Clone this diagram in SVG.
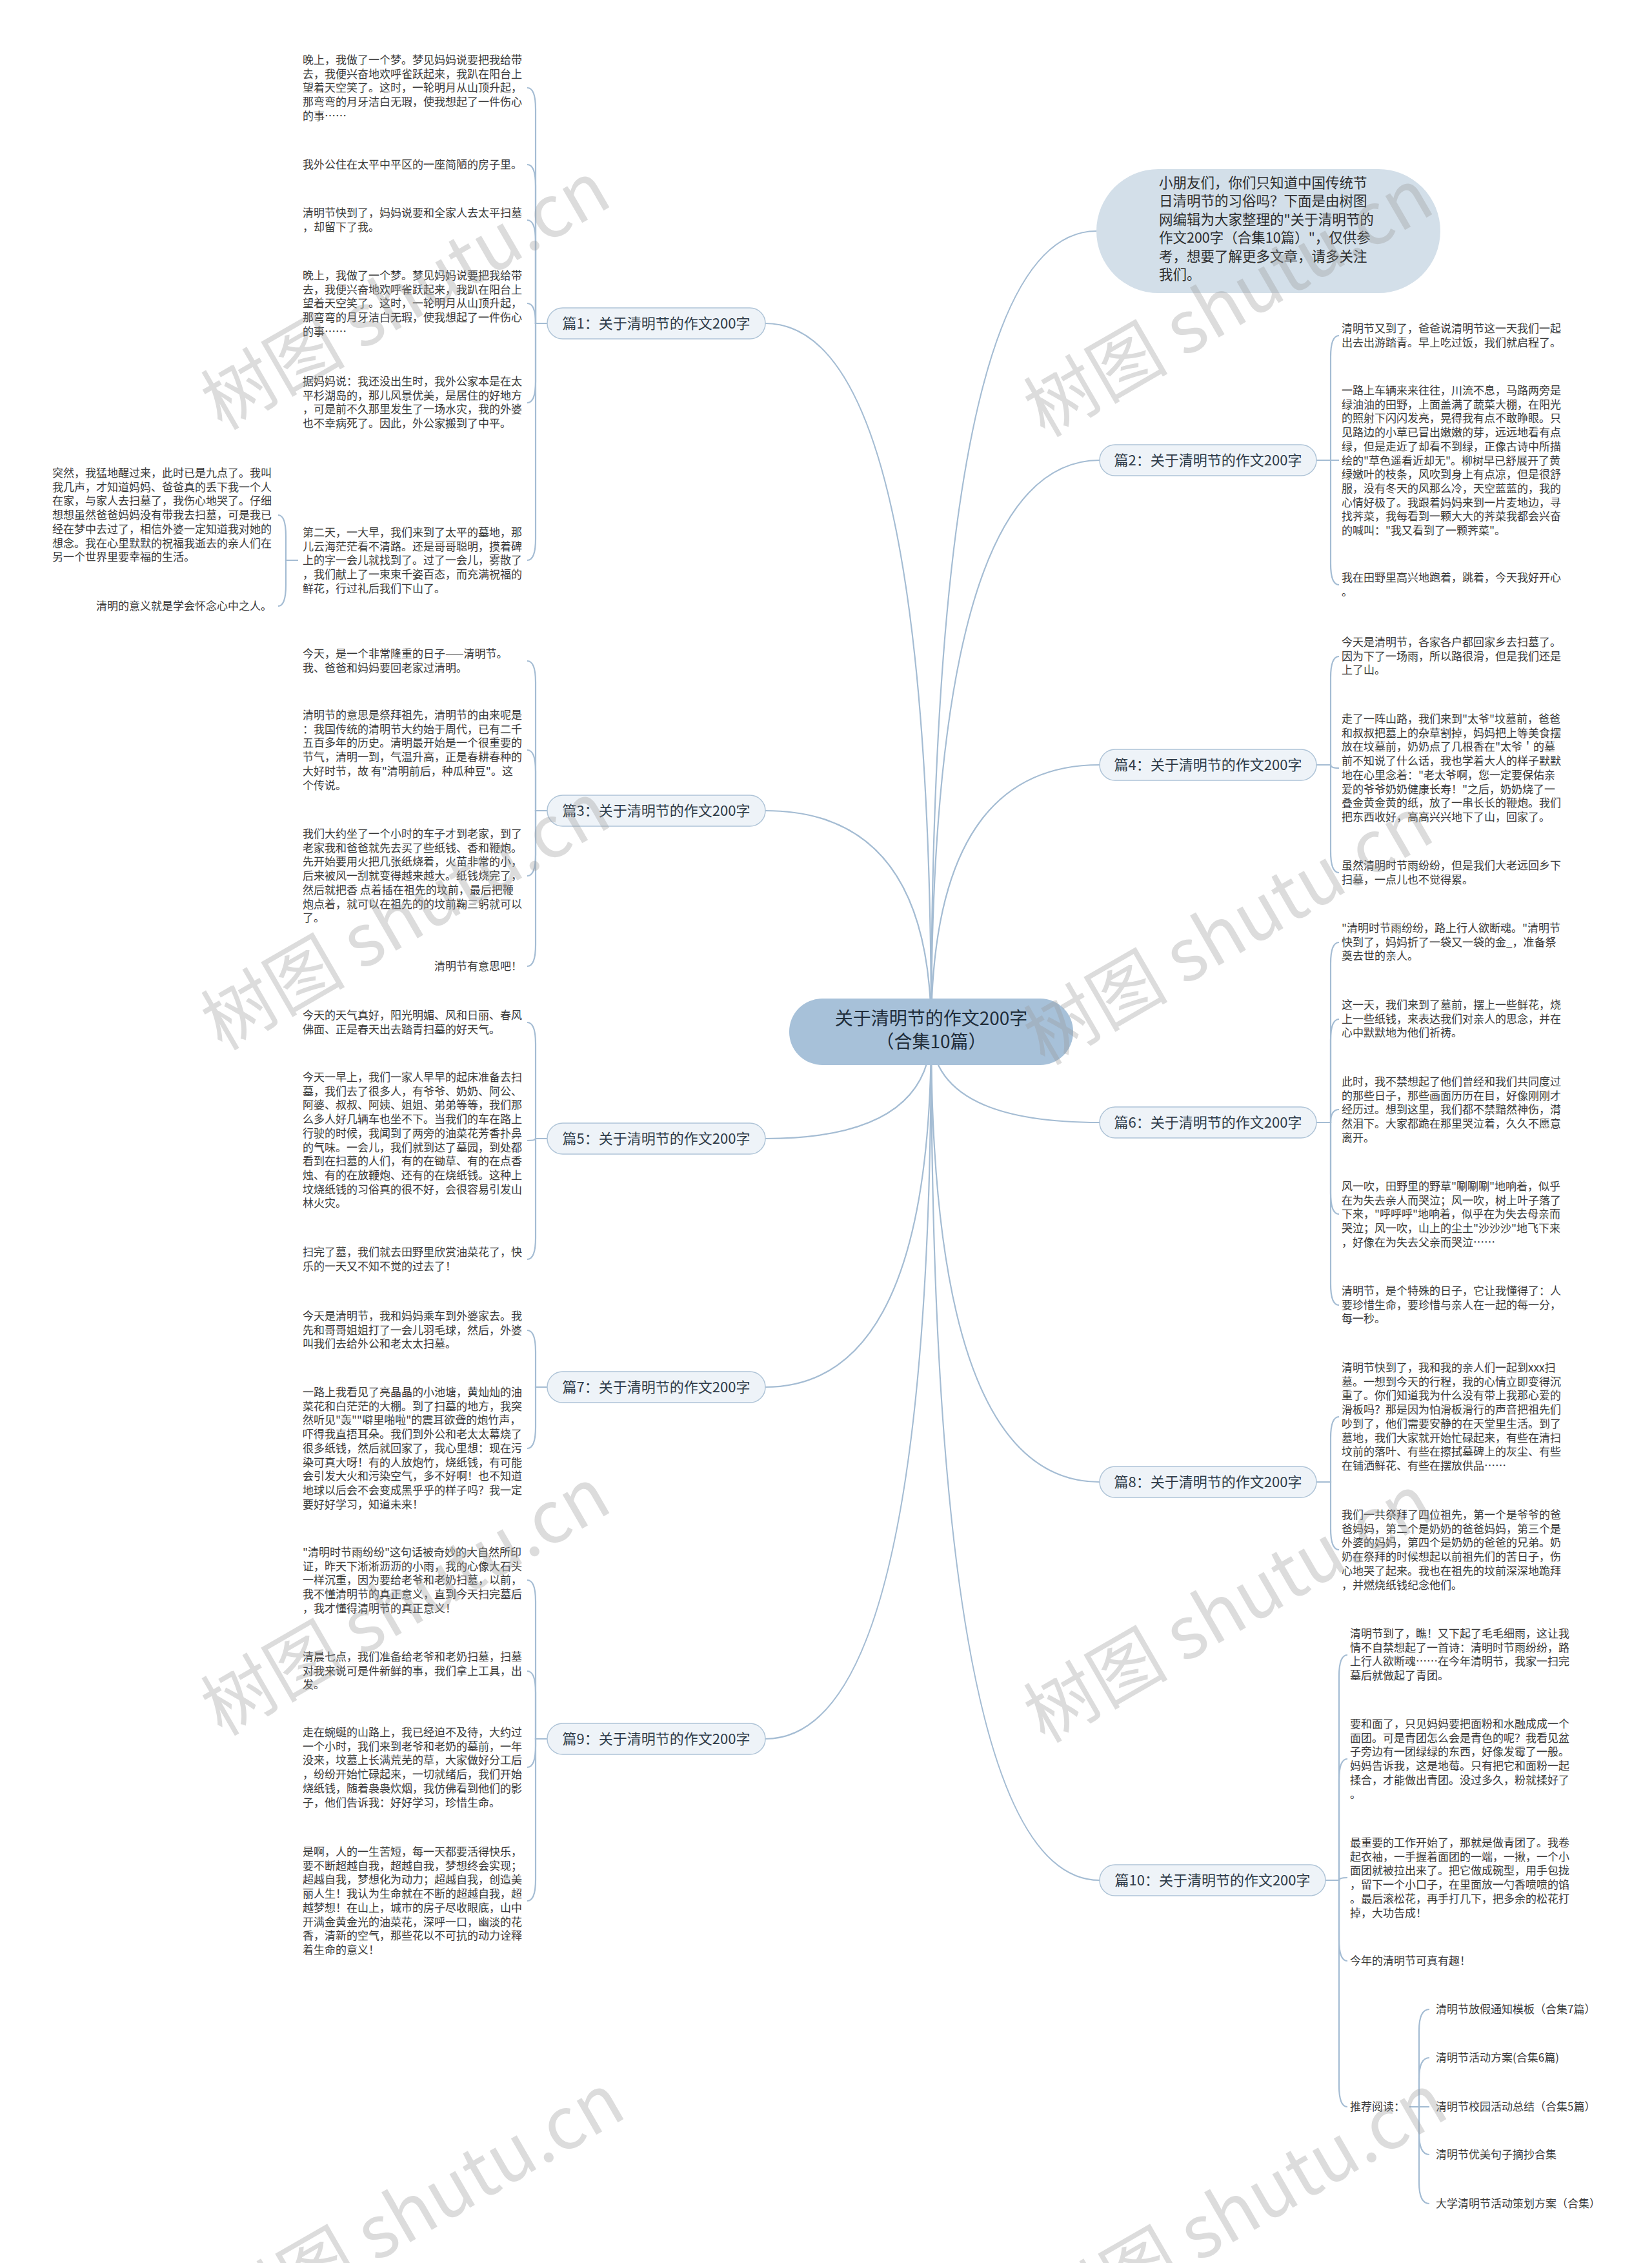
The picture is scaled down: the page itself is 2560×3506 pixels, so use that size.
<svg xmlns="http://www.w3.org/2000/svg" width="2560" height="3506" viewBox="0 0 2560 3506">
<style>
.t{font-family:"Noto Sans CJK SC","Liberation Sans",sans-serif;font-size:17px;fill:#3a3a3a}
.te{font-family:"Noto Sans CJK SC","Liberation Sans",sans-serif;font-size:17px;fill:#3a3a3a;text-anchor:end}
.bn{fill:#eef3f8;stroke:#afc4d7;stroke-width:1.5}
.bt{font-family:"Noto Sans CJK SC","Liberation Sans",sans-serif;font-size:22px;fill:#2e3b48;text-anchor:middle}
.c{fill:none;stroke:#a4bcd3;stroke-width:2.2}
.wm{font-family:"Noto Sans CJK SC","Liberation Serif",serif;font-size:112px;fill:#9a9a9a;fill-opacity:0.35}
</style>
<rect width="2560" height="3506" fill="#ffffff"/>
<g id="connectors">
<path class="c" d="M1443 1598 Q1443 501 1186 501"/>
<path class="c" d="M1443 1598 Q1443 1256 1186 1256"/>
<path class="c" d="M1443 1598 Q1443 1764 1186 1764"/>
<path class="c" d="M1443 1598 Q1443 2149 1186 2149"/>
<path class="c" d="M1443 1598 Q1443 2694 1186 2694"/>
<path class="c" d="M1443 1598 Q1443 358 1699 358"/>
<path class="c" d="M1443 1598 Q1443 713 1704 713"/>
<path class="c" d="M1443 1598 Q1443 1185 1704 1185"/>
<path class="c" d="M1443 1598 Q1443 1739 1704 1739"/>
<path class="c" d="M1443 1598 Q1443 2296 1704 2296"/>
<path class="c" d="M1443 1598 Q1443 2913 1704 2913"/>
<path class="c" d="M848 501 H830 V169 Q830 136 817 136"/>
<path class="c" d="M848 501 H830 V288 Q830 255 817 255"/>
<path class="c" d="M848 501 H830 V374 Q830 341 817 341"/>
<path class="c" d="M848 501 H830 V501 Q830 470 817 470"/>
<path class="c" d="M848 501 H830 V591 Q830 624 817 624"/>
<path class="c" d="M848 501 H830 V835 Q830 868 817 868"/>
<path class="c" d="M462 868 H443 V831 Q443 798 431 798"/>
<path class="c" d="M462 868 H443 V906 Q443 939 431 939"/>
<path class="c" d="M848 1256 H830 V1057 Q830 1024 817 1024"/>
<path class="c" d="M848 1256 H830 V1195 Q830 1162 817 1162"/>
<path class="c" d="M848 1256 H830 V1324 Q830 1357 817 1357"/>
<path class="c" d="M848 1256 H830 V1464 Q830 1497 817 1497"/>
<path class="c" d="M848 1764 H830 V1617 Q830 1584 817 1584"/>
<path class="c" d="M848 1764 H830 V1764 Q830 1767 817 1767"/>
<path class="c" d="M848 1764 H830 V1918 Q830 1951 817 1951"/>
<path class="c" d="M848 2149 H830 V2094 Q830 2061 817 2061"/>
<path class="c" d="M848 2149 H830 V2211 Q830 2244 817 2244"/>
<path class="c" d="M848 2694 H830 V2481 Q830 2448 817 2448"/>
<path class="c" d="M848 2694 H830 V2622 Q830 2589 817 2589"/>
<path class="c" d="M848 2694 H830 V2705 Q830 2738 817 2738"/>
<path class="c" d="M848 2694 H830 V2912 Q830 2945 817 2945"/>
<path class="c" d="M2040 713 H2062 V553 Q2062 520 2075 520"/>
<path class="c" d="M2040 713 H2075"/>
<path class="c" d="M2040 713 H2062 V873 Q2062 906 2075 906"/>
<path class="c" d="M2040 1185 H2062 V1050 Q2062 1017 2075 1017"/>
<path class="c" d="M2040 1185 H2062 V1185 Q2062 1190 2075 1190"/>
<path class="c" d="M2040 1185 H2062 V1319 Q2062 1352 2075 1352"/>
<path class="c" d="M2040 1739 H2062 V1493 Q2062 1460 2075 1460"/>
<path class="c" d="M2040 1739 H2062 V1612 Q2062 1579 2075 1579"/>
<path class="c" d="M2040 1739 H2062 V1739 Q2062 1719 2075 1719"/>
<path class="c" d="M2040 1739 H2062 V1848 Q2062 1881 2075 1881"/>
<path class="c" d="M2040 1739 H2062 V1989 Q2062 2022 2075 2022"/>
<path class="c" d="M2040 2296 H2062 V2228 Q2062 2195 2075 2195"/>
<path class="c" d="M2040 2296 H2062 V2368 Q2062 2401 2075 2401"/>
<path class="c" d="M2054 2913 H2075 V2597 Q2075 2564 2088 2564"/>
<path class="c" d="M2054 2913 H2075 V2758 Q2075 2725 2088 2725"/>
<path class="c" d="M2054 2913 H2075 V2913 Q2075 2909 2088 2909"/>
<path class="c" d="M2054 2913 H2075 V3005 Q2075 3038 2088 3038"/>
<path class="c" d="M2054 2913 H2075 V3231 Q2075 3264 2088 3264"/>
<path class="c" d="M2184 3264 H2199 V3146 Q2199 3113 2215 3113"/>
<path class="c" d="M2184 3264 H2199 V3221 Q2199 3188 2215 3188"/>
<path class="c" d="M2184 3264 H2215"/>
<path class="c" d="M2184 3264 H2199 V3305 Q2199 3338 2215 3338"/>
<path class="c" d="M2184 3264 H2199 V3381 Q2199 3414 2215 3414"/>
</g>
<g id="center">
<rect x="1223" y="1547" width="440" height="103" rx="51" fill="#a7c1d9"/>
<text x="1443" y="1588" font-family="Noto Sans CJK SC, Liberation Sans, sans-serif" font-size="28" fill="#1f2d3a" text-anchor="middle">关于清明节的作文200字</text>
<text x="1443" y="1624" font-family="Noto Sans CJK SC, Liberation Sans, sans-serif" font-size="28" fill="#1f2d3a" text-anchor="middle">（合集10篇）</text>
</g>
<g id="intro">
<rect x="1699" y="262" width="533" height="192" rx="96" fill="#d3dfe9"/>
<text font-family="Noto Sans CJK SC, Liberation Sans, sans-serif" font-size="21.5" fill="#2e2e2e" x="1796" y="291"><tspan x="1796">小朋友们，你们只知道中国传统节</tspan><tspan x="1796" dy="28.4">日清明节的习俗吗？下面是由树图</tspan><tspan x="1796" dy="28.4">网编辑为大家整理的"关于清明节的</tspan><tspan x="1796" dy="28.4">作文200字（合集10篇）"，仅供参</tspan><tspan x="1796" dy="28.4">考，想要了解更多文章，请多关注</tspan><tspan x="1796" dy="28.4">我们。</tspan></text>
</g>
<g id="b1"><rect class="bn" x="848" y="477" width="338" height="48" rx="24"/><text class="bt" x="1017" y="509">篇1：关于清明节的作文200字</text></g>
<g id="b3"><rect class="bn" x="848" y="1232" width="338" height="48" rx="24"/><text class="bt" x="1017" y="1264">篇3：关于清明节的作文200字</text></g>
<g id="b5"><rect class="bn" x="848" y="1740" width="338" height="48" rx="24"/><text class="bt" x="1017" y="1772">篇5：关于清明节的作文200字</text></g>
<g id="b7"><rect class="bn" x="848" y="2125" width="338" height="48" rx="24"/><text class="bt" x="1017" y="2157">篇7：关于清明节的作文200字</text></g>
<g id="b9"><rect class="bn" x="848" y="2670" width="338" height="48" rx="24"/><text class="bt" x="1017" y="2702">篇9：关于清明节的作文200字</text></g>
<g id="b2"><rect class="bn" x="1704" y="689" width="336" height="48" rx="24"/><text class="bt" x="1872" y="721">篇2：关于清明节的作文200字</text></g>
<g id="b4"><rect class="bn" x="1704" y="1161" width="336" height="48" rx="24"/><text class="bt" x="1872" y="1193">篇4：关于清明节的作文200字</text></g>
<g id="b6"><rect class="bn" x="1704" y="1715" width="336" height="48" rx="24"/><text class="bt" x="1872" y="1747">篇6：关于清明节的作文200字</text></g>
<g id="b8"><rect class="bn" x="1704" y="2272" width="336" height="48" rx="24"/><text class="bt" x="1872" y="2304">篇8：关于清明节的作文200字</text></g>
<g id="b10"><rect class="bn" x="1704" y="2889" width="350" height="48" rx="24"/><text class="bt" x="1879" y="2921">篇10：关于清明节的作文200字</text></g>
<g id="n1a"><text class="t" x="469" y="99"><tspan x="469">晚上，我做了一个梦。梦见妈妈说要把我给带</tspan><tspan x="469" dy="21.7">去，我便兴奋地欢呼雀跃起来，我趴在阳台上</tspan><tspan x="469" dy="21.7">望着天空笑了。这时，一轮明月从山顶升起，</tspan><tspan x="469" dy="21.7">那弯弯的月牙洁白无瑕，使我想起了一件伤心</tspan><tspan x="469" dy="21.7">的事……</tspan></text></g>
<g id="n1b"><text class="t" x="469" y="261">我外公住在太平中平区的一座简陋的房子里。</text></g>
<g id="n1c"><text class="t" x="469" y="336"><tspan x="469">清明节快到了，妈妈说要和全家人去太平扫墓</tspan><tspan x="469" dy="21.7">，却留下了我。</tspan></text></g>
<g id="n1d"><text class="t" x="469" y="433"><tspan x="469">晚上，我做了一个梦。梦见妈妈说要把我给带</tspan><tspan x="469" dy="21.7">去，我便兴奋地欢呼雀跃起来，我趴在阳台上</tspan><tspan x="469" dy="21.7">望着天空笑了。这时，一轮明月从山顶升起，</tspan><tspan x="469" dy="21.7">那弯弯的月牙洁白无瑕，使我想起了一件伤心</tspan><tspan x="469" dy="21.7">的事……</tspan></text></g>
<g id="n1e"><text class="t" x="469" y="597"><tspan x="469">据妈妈说：我还没出生时，我外公家本是在太</tspan><tspan x="469" dy="21.7">平杉湖岛的，那儿风景优美，是居住的好地方</tspan><tspan x="469" dy="21.7">，可是前不久那里发生了一场水灾，我的外婆</tspan><tspan x="469" dy="21.7">也不幸病死了。因此，外公家搬到了中平。</tspan></text></g>
<g id="n1f"><text class="t" x="469" y="831"><tspan x="469">第二天，一大早，我们来到了太平的墓地，那</tspan><tspan x="469" dy="21.7">儿云海茫茫看不清路。还是哥哥聪明，摸着碑</tspan><tspan x="469" dy="21.7">上的字一会儿就找到了。过了一会儿，雾散了</tspan><tspan x="469" dy="21.7">，我们献上了一束束千姿百态，而充满祝福的</tspan><tspan x="469" dy="21.7">鲜花，行过礼后我们下山了。</tspan></text></g>
<g id="n1f1"><text class="t" x="81" y="739"><tspan x="81">突然，我猛地醒过来，此时已是九点了。我叫</tspan><tspan x="81" dy="21.7">我几声，才知道妈妈、爸爸真的丢下我一个人</tspan><tspan x="81" dy="21.7">在家，与家人去扫墓了，我伤心地哭了。仔细</tspan><tspan x="81" dy="21.7">想想虽然爸爸妈妈没有带我去扫墓，可是我已</tspan><tspan x="81" dy="21.7">经在梦中去过了，相信外婆一定知道我对她的</tspan><tspan x="81" dy="21.7">想念。我在心里默默的祝福我逝去的亲人们在</tspan><tspan x="81" dy="21.7">另一个世界里要幸福的生活。</tspan></text></g>
<g id="n1f2"><text class="te" x="421" y="945">清明的意义就是学会怀念心中之人。</text></g>
<g id="n3a"><text class="t" x="469" y="1019"><tspan x="469">今天，是一个非常隆重的日子——清明节。</tspan><tspan x="469" dy="21.7">我、爸爸和妈妈要回老家过清明。</tspan></text></g>
<g id="n3b"><text class="t" x="469" y="1114"><tspan x="469">清明节的意思是祭拜祖先，清明节的由来呢是</tspan><tspan x="469" dy="21.7">：我国传统的清明节大约始于周代，已有二千</tspan><tspan x="469" dy="21.7">五百多年的历史。清明最开始是一个很重要的</tspan><tspan x="469" dy="21.7">节气，清明一到，气温升高，正是春耕春种的</tspan><tspan x="469" dy="21.7">大好时节，故 有"清明前后，种瓜种豆"。这</tspan><tspan x="469" dy="21.7">个传说。</tspan></text></g>
<g id="n3c"><text class="t" x="469" y="1298"><tspan x="469">我们大约坐了一个小时的车子才到老家，到了</tspan><tspan x="469" dy="21.7">老家我和爸爸就先去买了些纸钱、香和鞭炮。</tspan><tspan x="469" dy="21.7">先开始要用火把几张纸烧着，火苗非常的小，</tspan><tspan x="469" dy="21.7">后来被风一刮就变得越来越大。纸钱烧完了，</tspan><tspan x="469" dy="21.7">然后就把香 点着插在祖先的坟前，最后把鞭</tspan><tspan x="469" dy="21.7">炮点着，就可以在祖先的的坟前鞠三躬就可以</tspan><tspan x="469" dy="21.7">了。</tspan></text></g>
<g id="n3d"><text class="te" x="809" y="1503">清明节有意思吧！</text></g>
<g id="n5a"><text class="t" x="469" y="1579"><tspan x="469">今天的天气真好，阳光明媚、风和日丽、春风</tspan><tspan x="469" dy="21.7">佛面、正是春天出去踏青扫墓的好天气。</tspan></text></g>
<g id="n5b"><text class="t" x="469" y="1675"><tspan x="469">今天一早上，我们一家人早早的起床准备去扫</tspan><tspan x="469" dy="21.7">墓，我们去了很多人，有爷爷、奶奶、阿公、</tspan><tspan x="469" dy="21.7">阿婆、叔叔、阿姨、姐姐、弟弟等等，我们那</tspan><tspan x="469" dy="21.7">么多人好几辆车也坐不下。当我们的车在路上</tspan><tspan x="469" dy="21.7">行驶的时候，我闻到了两旁的油菜花芳香扑鼻</tspan><tspan x="469" dy="21.7">的气味。一会儿，我们就到达了墓园，到处都</tspan><tspan x="469" dy="21.7">看到在扫墓的人们，有的在锄草、有的在点香</tspan><tspan x="469" dy="21.7">烛、有的在放鞭炮、还有的在烧纸钱。这种上</tspan><tspan x="469" dy="21.7">坟烧纸钱的习俗真的很不好，会很容易引发山</tspan><tspan x="469" dy="21.7">林火灾。</tspan></text></g>
<g id="n5c"><text class="t" x="469" y="1946"><tspan x="469">扫完了墓，我们就去田野里欣赏油菜花了，快</tspan><tspan x="469" dy="21.7">乐的一天又不知不觉的过去了！</tspan></text></g>
<g id="n7a"><text class="t" x="469" y="2045"><tspan x="469">今天是清明节，我和妈妈乘车到外婆家去。我</tspan><tspan x="469" dy="21.7">先和哥哥姐姐打了一会儿羽毛球，然后，外婆</tspan><tspan x="469" dy="21.7">叫我们去给外公和老太太扫墓。</tspan></text></g>
<g id="n7b"><text class="t" x="469" y="2163"><tspan x="469">一路上我看见了亮晶晶的小池塘，黄灿灿的油</tspan><tspan x="469" dy="21.7">菜花和白茫茫的大棚。到了扫墓的地方，我突</tspan><tspan x="469" dy="21.7">然听见"轰""噼里啪啦"的震耳欲聋的炮竹声，</tspan><tspan x="469" dy="21.7">吓得我直捂耳朵。我们到外公和老太太幕烧了</tspan><tspan x="469" dy="21.7">很多纸钱，然后就回家了，我心里想：现在污</tspan><tspan x="469" dy="21.7">染可真大呀！有的人放炮竹，烧纸钱，有可能</tspan><tspan x="469" dy="21.7">会引发大火和污染空气，多不好啊！也不知道</tspan><tspan x="469" dy="21.7">地球以后会不会变成黑乎乎的样子吗？我一定</tspan><tspan x="469" dy="21.7">要好好学习，知道未来！</tspan></text></g>
<g id="n9a"><text class="t" x="469" y="2411"><tspan x="469">"清明时节雨纷纷"这句话被奇妙的大自然所印</tspan><tspan x="469" dy="21.7">证，昨天下淅淅沥沥的小雨，我的心像大石头</tspan><tspan x="469" dy="21.7">一样沉重，因为要给老爷和老奶扫墓，以前，</tspan><tspan x="469" dy="21.7">我不懂清明节的真正意义，直到今天扫完墓后</tspan><tspan x="469" dy="21.7">，我才懂得清明节的真正意义！</tspan></text></g>
<g id="n9b"><text class="t" x="469" y="2573"><tspan x="469">清晨七点，我们准备给老爷和老奶扫墓，扫墓</tspan><tspan x="469" dy="21.7">对我来说可是件新鲜的事，我们拿上工具，出</tspan><tspan x="469" dy="21.7">发。</tspan></text></g>
<g id="n9c"><text class="t" x="469" y="2690"><tspan x="469">走在蜿蜒的山路上，我已经迫不及待，大约过</tspan><tspan x="469" dy="21.7">一个小时，我们来到老爷和老奶的墓前，一年</tspan><tspan x="469" dy="21.7">没来，坟墓上长满荒芜的草，大家做好分工后</tspan><tspan x="469" dy="21.7">，纷纷开始忙碌起来，一切就绪后，我们开始</tspan><tspan x="469" dy="21.7">烧纸钱，随着袅袅炊烟，我仿佛看到他们的影</tspan><tspan x="469" dy="21.7">子，他们告诉我：好好学习，珍惜生命。</tspan></text></g>
<g id="n9d"><text class="t" x="469" y="2875"><tspan x="469">是啊，人的一生苦短，每一天都要活得快乐，</tspan><tspan x="469" dy="21.7">要不断超越自我，超越自我，梦想终会实现；</tspan><tspan x="469" dy="21.7">超越自我，梦想化为动力；超越自我，创造美</tspan><tspan x="469" dy="21.7">丽人生！我认为生命就在不断的超越自我，超</tspan><tspan x="469" dy="21.7">越梦想！在山上，城市的房子尽收眼底，山中</tspan><tspan x="469" dy="21.7">开满金黄金光的油菜花，深呼一口，幽淡的花</tspan><tspan x="469" dy="21.7">香，清新的空气，那些花以不可抗的动力诠释</tspan><tspan x="469" dy="21.7">着生命的意义！</tspan></text></g>
<g id="n2a"><text class="t" x="2079" y="515"><tspan x="2079">清明节又到了，爸爸说清明节这一天我们一起</tspan><tspan x="2079" dy="21.7">出去出游踏青。早上吃过饭，我们就启程了。</tspan></text></g>
<g id="n2b"><text class="t" x="2079" y="611"><tspan x="2079">一路上车辆来来往往，川流不息，马路两旁是</tspan><tspan x="2079" dy="21.7">绿油油的田野，上面盖满了蔬菜大棚，在阳光</tspan><tspan x="2079" dy="21.7">的照射下闪闪发亮，晃得我有点不敢睁眼。只</tspan><tspan x="2079" dy="21.7">见路边的小草已冒出嫩嫩的芽，远远地看有点</tspan><tspan x="2079" dy="21.7">绿，但是走近了却看不到绿，正像古诗中所描</tspan><tspan x="2079" dy="21.7">绘的"草色遥看近却无"。柳树早已舒展开了黄</tspan><tspan x="2079" dy="21.7">绿嫩叶的枝条，风吹到身上有点凉，但是很舒</tspan><tspan x="2079" dy="21.7">服，没有冬天的风那么冷，天空蓝蓝的，我的</tspan><tspan x="2079" dy="21.7">心情好极了。我跟着妈妈来到一片麦地边，寻</tspan><tspan x="2079" dy="21.7">找荠菜，我每看到一颗大大的荠菜我都会兴奋</tspan><tspan x="2079" dy="21.7">的喊叫："我又看到了一颗荠菜"。</tspan></text></g>
<g id="n2c"><text class="t" x="2079" y="901"><tspan x="2079">我在田野里高兴地跑着，跳着，今天我好开心</tspan><tspan x="2079" dy="21.7">。</tspan></text></g>
<g id="n4a"><text class="t" x="2079" y="1001"><tspan x="2079">今天是清明节，各家各户都回家乡去扫墓了。</tspan><tspan x="2079" dy="21.7">因为下了一场雨，所以路很滑，但是我们还是</tspan><tspan x="2079" dy="21.7">上了山。</tspan></text></g>
<g id="n4b"><text class="t" x="2079" y="1120"><tspan x="2079">走了一阵山路，我们来到"太爷"坟墓前，爸爸</tspan><tspan x="2079" dy="21.7">和叔叔把墓上的杂草割掉，妈妈把上等美食摆</tspan><tspan x="2079" dy="21.7">放在坟墓前，奶奶点了几根香在"太爷＇的墓</tspan><tspan x="2079" dy="21.7">前不知说了什么话，我也学着大人的样子默默</tspan><tspan x="2079" dy="21.7">地在心里念着："老太爷啊，您一定要保佑亲</tspan><tspan x="2079" dy="21.7">爱的爷爷奶奶健康长寿！"之后，奶奶烧了一</tspan><tspan x="2079" dy="21.7">叠金黄金黄的纸，放了一串长长的鞭炮。我们</tspan><tspan x="2079" dy="21.7">把东西收好，高高兴兴地下了山，回家了。</tspan></text></g>
<g id="n4c"><text class="t" x="2079" y="1347"><tspan x="2079">虽然清明时节雨纷纷，但是我们大老远回乡下</tspan><tspan x="2079" dy="21.7">扫墓，一点儿也不觉得累。</tspan></text></g>
<g id="n6a"><text class="t" x="2079" y="1444"><tspan x="2079">"清明时节雨纷纷，路上行人欲断魂。"清明节</tspan><tspan x="2079" dy="21.7">快到了，妈妈折了一袋又一袋的金_，准备祭</tspan><tspan x="2079" dy="21.7">奠去世的亲人。</tspan></text></g>
<g id="n6b"><text class="t" x="2079" y="1563"><tspan x="2079">这一天，我们来到了墓前，摆上一些鲜花，烧</tspan><tspan x="2079" dy="21.7">上一些纸钱，来表达我们对亲人的思念，并在</tspan><tspan x="2079" dy="21.7">心中默默地为他们祈祷。</tspan></text></g>
<g id="n6c"><text class="t" x="2079" y="1682"><tspan x="2079">此时，我不禁想起了他们曾经和我们共同度过</tspan><tspan x="2079" dy="21.7">的那些日子，那些画面历历在目，好像刚刚才</tspan><tspan x="2079" dy="21.7">经历过。想到这里，我们都不禁黯然神伤，潸</tspan><tspan x="2079" dy="21.7">然泪下。大家都跪在那里哭泣着，久久不愿意</tspan><tspan x="2079" dy="21.7">离开。</tspan></text></g>
<g id="n6d"><text class="t" x="2079" y="1844"><tspan x="2079">风一吹，田野里的野草"唰唰唰"地响着，似乎</tspan><tspan x="2079" dy="21.7">在为失去亲人而哭泣；风一吹，树上叶子落了</tspan><tspan x="2079" dy="21.7">下来，"呼呼呼"地响着，似乎在为失去母亲而</tspan><tspan x="2079" dy="21.7">哭泣；风一吹，山上的尘土"沙沙沙"地飞下来</tspan><tspan x="2079" dy="21.7">，好像在为失去父亲而哭泣……</tspan></text></g>
<g id="n6e"><text class="t" x="2079" y="2006"><tspan x="2079">清明节，是个特殊的日子，它让我懂得了：人</tspan><tspan x="2079" dy="21.7">要珍惜生命，要珍惜与亲人在一起的每一分，</tspan><tspan x="2079" dy="21.7">每一秒。</tspan></text></g>
<g id="n8a"><text class="t" x="2079" y="2125"><tspan x="2079">清明节快到了，我和我的亲人们一起到xxx扫</tspan><tspan x="2079" dy="21.7">墓。一想到今天的行程，我的心情立即变得沉</tspan><tspan x="2079" dy="21.7">重了。你们知道我为什么没有带上我那心爱的</tspan><tspan x="2079" dy="21.7">滑板吗？那是因为怕滑板滑行的声音把祖先们</tspan><tspan x="2079" dy="21.7">吵到了，他们需要安静的在天堂里生活。到了</tspan><tspan x="2079" dy="21.7">墓地，我们大家就开始忙碌起来，有些在清扫</tspan><tspan x="2079" dy="21.7">坟前的落叶、有些在擦拭墓碑上的灰尘、有些</tspan><tspan x="2079" dy="21.7">在铺洒鲜花、有些在摆放供品……</tspan></text></g>
<g id="n8b"><text class="t" x="2079" y="2353"><tspan x="2079">我们一共祭拜了四位祖先，第一个是爷爷的爸</tspan><tspan x="2079" dy="21.7">爸妈妈，第二个是奶奶的爸爸妈妈，第三个是</tspan><tspan x="2079" dy="21.7">外婆的妈妈，第四个是奶奶的爸爸的兄弟。奶</tspan><tspan x="2079" dy="21.7">奶在祭拜的时候想起以前祖先们的苦日子，伤</tspan><tspan x="2079" dy="21.7">心地哭了起来。我也在祖先的坟前深深地跪拜</tspan><tspan x="2079" dy="21.7">，并燃烧纸钱纪念他们。</tspan></text></g>
<g id="n10a"><text class="t" x="2092" y="2537"><tspan x="2092">清明节到了，瞧！又下起了毛毛细雨，这让我</tspan><tspan x="2092" dy="21.7">情不自禁想起了一首诗：清明时节雨纷纷，路</tspan><tspan x="2092" dy="21.7">上行人欲断魂……在今年清明节，我家一扫完</tspan><tspan x="2092" dy="21.7">墓后就做起了青团。</tspan></text></g>
<g id="n10b"><text class="t" x="2092" y="2677"><tspan x="2092">要和面了，只见妈妈要把面粉和水融成成一个</tspan><tspan x="2092" dy="21.7">面团。可是青团怎么会是青色的呢？我看见盆</tspan><tspan x="2092" dy="21.7">子旁边有一团绿绿的东西，好像发霉了一般。</tspan><tspan x="2092" dy="21.7">妈妈告诉我，这是地莓。只有把它和面粉一起</tspan><tspan x="2092" dy="21.7">揉合，才能做出青团。没过多久，粉就揉好了</tspan><tspan x="2092" dy="21.7">。</tspan></text></g>
<g id="n10c"><text class="t" x="2092" y="2861"><tspan x="2092">最重要的工作开始了，那就是做青团了。我卷</tspan><tspan x="2092" dy="21.7">起衣袖，一手握着面团的一端，一揪，一个小</tspan><tspan x="2092" dy="21.7">面团就被拉出来了。把它做成碗型，用手包拢</tspan><tspan x="2092" dy="21.7">，留下一个小口子，在里面放一勺香喷喷的馅</tspan><tspan x="2092" dy="21.7">。最后滚松花，再手打几下，把多余的松花打</tspan><tspan x="2092" dy="21.7">掉，大功告成！</tspan></text></g>
<g id="n10d"><text class="t" x="2092" y="3044">今年的清明节可真有趣！</text></g>
<g id="n10e"><text class="t" x="2092" y="3270">推荐阅读：</text></g>
<g id="r1"><text class="t" x="2225" y="3119">清明节放假通知模板（合集7篇）</text></g>
<g id="r2"><text class="t" x="2225" y="3194">清明节活动方案(合集6篇)</text></g>
<g id="r3"><text class="t" x="2225" y="3270">清明节校园活动总结（合集5篇）</text></g>
<g id="r4"><text class="t" x="2225" y="3344">清明节优美句子摘抄合集</text></g>
<g id="r5"><text class="t" x="2225" y="3420">大学清明节活动策划方案（合集）</text></g>
<g id="watermarks">
<text class="wm" transform="translate(648 492) rotate(-30)" text-anchor="middle">树图 shutu.cn</text>
<text class="wm" transform="translate(1923 503) rotate(-30)" text-anchor="middle">树图 shutu.cn</text>
<text class="wm" transform="translate(648 1453) rotate(-30)" text-anchor="middle">树图 shutu.cn</text>
<text class="wm" transform="translate(1923 1476) rotate(-30)" text-anchor="middle">树图 shutu.cn</text>
<text class="wm" transform="translate(648 2515) rotate(-30)" text-anchor="middle">树图 shutu.cn</text>
<text class="wm" transform="translate(1923 2526) rotate(-30)" text-anchor="middle">树图 shutu.cn</text>
<text class="wm" transform="translate(670 3454) rotate(-30)" text-anchor="middle">树图 shutu.cn</text>
<text class="wm" transform="translate(1945 3454) rotate(-30)" text-anchor="middle">树图 shutu.cn</text>
</g>
</svg>
